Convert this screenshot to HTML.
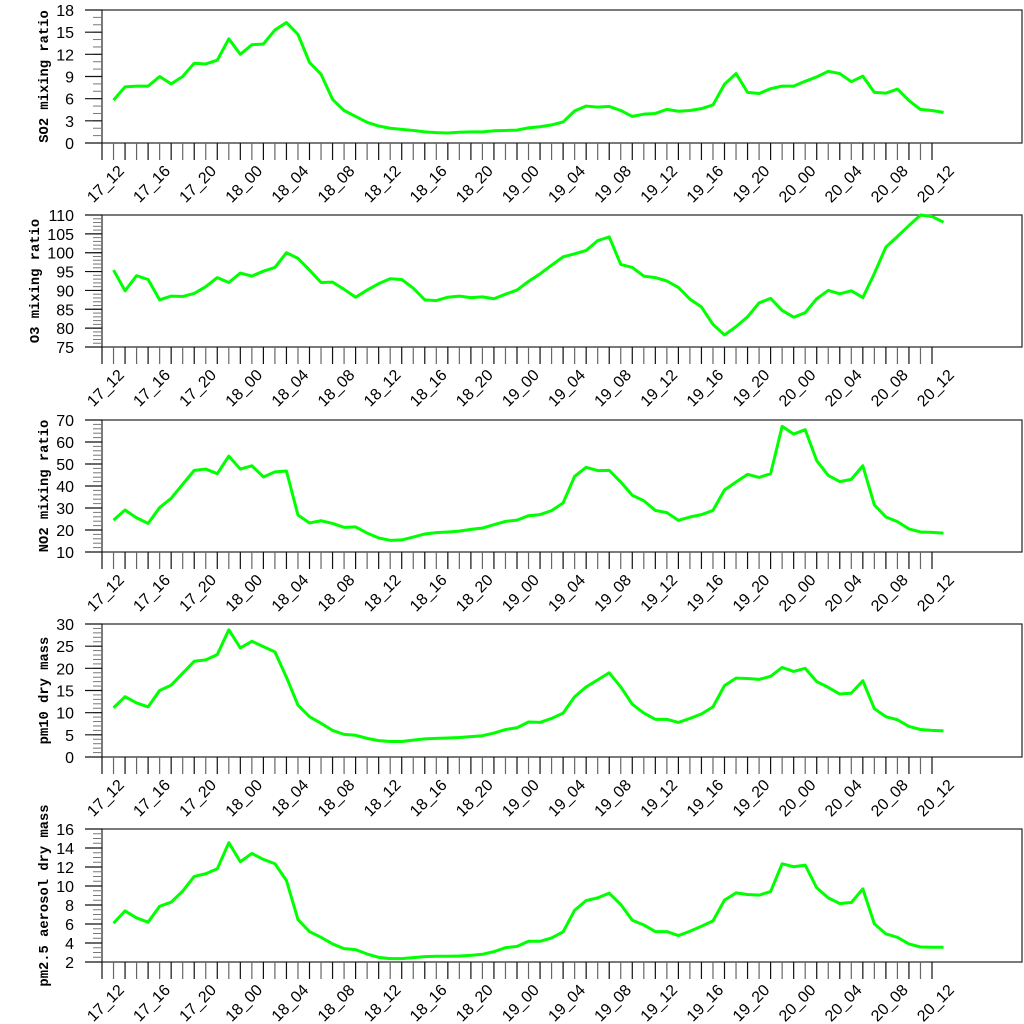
<!DOCTYPE html>
<html><head><meta charset="utf-8"><style>
html,body{margin:0;padding:0;background:#fff;}
svg{display:block;}
</style></head><body>
<svg id="chart" width="1024" height="1024" viewBox="0 0 1024 1024" xmlns="http://www.w3.org/2000/svg"></svg>
<script>
const timeLabels = ["17_12","17_16","17_20","18_00","18_04","18_08","18_12","18_16","18_20","19_00","19_04","19_08","19_12","19_16","19_20","20_00","20_04","20_08","20_12"];
const so2Values = [5.8,7.6,7.7,7.7,9.0,8.0,9.0,10.8,10.7,11.2,14.1,12.0,13.3,13.4,15.3,16.3,14.7,10.9,9.3,5.9,4.4,3.6,2.8,2.3,2.0,1.85,1.7,1.5,1.4,1.35,1.45,1.5,1.5,1.65,1.7,1.75,2.05,2.2,2.45,2.85,4.35,5.0,4.85,4.95,4.4,3.6,3.9,4.0,4.55,4.3,4.4,4.65,5.15,7.95,9.4,6.85,6.7,7.35,7.7,7.7,8.35,8.95,9.7,9.4,8.3,9.05,6.85,6.75,7.3,5.75,4.55,4.4,4.15];
const o3Values = [95.4,89.9,93.9,92.9,87.5,88.5,88.4,89.2,91.0,93.4,92.1,94.6,93.8,95.1,96.1,100.0,98.5,95.4,92.1,92.2,90.3,88.2,90.1,91.8,93.1,92.9,90.6,87.5,87.3,88.2,88.5,88.1,88.3,87.8,89.0,90.1,92.4,94.4,96.7,98.9,99.7,100.6,103.2,104.2,96.9,96.1,93.8,93.4,92.5,90.8,87.7,85.6,81.0,78.2,80.4,83.0,86.7,87.9,84.7,82.9,84.1,87.8,90.0,89.1,89.9,88.1,94.5,101.5,104.3,107.2,110.0,109.6,108.1];
const no2Values = [24.5,29.1,25.5,23.0,30.2,34.4,40.8,47.1,47.7,45.6,53.6,47.7,49.2,44.1,46.4,46.8,26.8,23.2,24.2,23.0,21.2,21.4,18.6,16.4,15.3,15.5,16.8,18.2,18.8,19.1,19.5,20.3,20.9,22.4,23.9,24.5,26.5,27.0,28.8,32.3,44.4,48.5,47.0,47.1,41.8,35.8,33.3,28.9,27.9,24.4,25.9,27.0,28.9,38.2,41.8,45.3,43.9,45.6,67.1,63.6,65.6,51.5,44.8,42.0,43.0,49.2,31.4,25.9,23.8,20.5,19.1,18.9,18.6];
const pm10Values = [11.1,13.6,12.2,11.3,15.0,16.2,18.9,21.6,21.9,23.1,28.7,24.6,26.1,24.9,23.7,18.0,11.7,9.1,7.6,6.0,5.1,4.9,4.2,3.7,3.5,3.5,3.8,4.1,4.2,4.3,4.4,4.6,4.8,5.4,6.2,6.6,7.9,7.8,8.7,9.9,13.6,15.8,17.4,19.0,15.8,11.9,9.9,8.5,8.5,7.8,8.7,9.7,11.3,16.1,17.8,17.7,17.5,18.2,20.2,19.3,20.0,17.0,15.7,14.2,14.4,17.2,10.9,9.1,8.4,6.9,6.2,6.0,5.9];
const pm25Values = [6.08,7.38,6.64,6.19,7.87,8.30,9.46,11.01,11.29,11.81,14.56,12.55,13.43,12.80,12.34,10.58,6.47,5.20,4.60,3.90,3.41,3.30,2.84,2.49,2.35,2.35,2.46,2.56,2.60,2.60,2.63,2.70,2.81,3.09,3.51,3.65,4.18,4.18,4.53,5.17,7.45,8.47,8.75,9.25,8.05,6.40,5.90,5.20,5.20,4.78,5.24,5.76,6.33,8.51,9.28,9.11,9.04,9.42,12.34,12.03,12.20,9.81,8.75,8.16,8.26,9.70,6.01,4.96,4.60,3.90,3.58,3.55,3.55];
const so2Ticks = [0,3,6,9,12,15,18];
const o3Ticks = [75,80,85,90,95,100,105,110];
const no2Ticks = [10,20,30,40,50,60,70];
const pm10Ticks = [0,5,10,15,20,25,30];
const pm25Ticks = [2,4,6,8,10,12,14,16];

const NS = "http://www.w3.org/2000/svg";
const svg = document.getElementById("chart");
const LEFT = 102, RIGHT = 1022, HOURS = 72, HOUR_W = 830 / 72;
function xScale(h){ return LEFT + h * HOUR_W; }
function mk(tag, attrs, parent){
  const e = document.createElementNS(NS, tag);
  for (const k in attrs) e.setAttribute(k, attrs[k]);
  (parent || svg).appendChild(e);
  return e;
}
const panels = [
  {key:"so2", title:"SO2 mixing ratio", vals:so2Values, ticks:so2Ticks, minor:1, top:10, bottom:143, tx:48},
  {key:"o3", title:"O3 mixing ratio", vals:o3Values, ticks:o3Ticks, minor:1, top:215, bottom:347, tx:39},
  {key:"no2", title:"NO2 mixing ratio", vals:no2Values, ticks:no2Ticks, minor:2, top:420, bottom:552, tx:48},
  {key:"pm10", title:"pm10 dry mass", vals:pm10Values, ticks:pm10Ticks, minor:1, top:624, bottom:757, tx:48},
  {key:"pm25", title:"pm2.5 aerosol dry mass", vals:pm25Values, ticks:pm25Ticks, minor:0.5, top:829, bottom:962, tx:48}
];
panels.forEach(p => {
  const g = mk("g", {});
  
  
  const lo = p.ticks[0], hi = p.ticks[p.ticks.length-1];
  const yScale = v => p.bottom - (v - lo) / (hi - lo) * (p.bottom - p.top);
  const fr = mk("rect", {x:LEFT, y:p.top, width:RIGHT-LEFT, height:p.bottom-p.top, fill:"none", stroke:"#222", "stroke-width":1.2}, g);
  
  
  for (let v = lo; v <= hi + 1e-9; v += p.minor) {
    const y = yScale(v);
    const t = mk("line", {x1:93, x2:LEFT, y1:y, y2:y, stroke:"#777", "stroke-width":1}, g);
    
    
  }
  p.ticks.forEach(v => {
    const y = yScale(v);
    const t = mk("line", {x1:85, x2:LEFT, y1:y, y2:y, stroke:"#111", "stroke-width":1.2}, g);
    
    
    const lb = mk("text", {x:74, y:y+6, "text-anchor":"end", "font-family":"Liberation Sans, sans-serif", "font-size":16, fill:"#000"}, g);
    
    
    lb.textContent = String(v);
  });
  const cy = (p.top + p.bottom) / 2;
  const yt = mk("text", {x:0, y:0, transform:"translate(" + p.tx + "," + cy + ") rotate(-90)", "text-anchor":"middle", "font-family":"Liberation Mono, monospace", "font-weight":"bold", "font-size":13.8, fill:"#000"}, g);
  
  
  yt.textContent = p.title;
  for (let h = 0; h <= HOURS; h++) {
    const x = xScale(h);
    const t = mk("line", {x1:x, x2:x, y1:p.bottom, y2:p.bottom+17, stroke:(h%2===0?"#111":"#666"), "stroke-width":1.2}, g);
    
    
  }
  timeLabels.forEach((lab, i) => {
    const x = xScale(i*4) + 23, y = p.bottom + 29;
    const lb = mk("text", {x:0, y:0, transform:"translate(" + x + "," + y + ") rotate(-45)", "text-anchor":"end", "font-family":"Liberation Sans, sans-serif", "font-size":16, fill:"#000"}, g);
    
    
    lb.textContent = lab;
  });
  const pts = p.vals.map((v, i) => xScale(i+1).toFixed(2) + "," + yScale(v).toFixed(2)).join(" ");
  const ln = mk("polyline", {points:pts, fill:"none", stroke:"#00ff00", "stroke-width":3, "stroke-linejoin":"round"}, g);
  
  
});
</script>
</body></html>
